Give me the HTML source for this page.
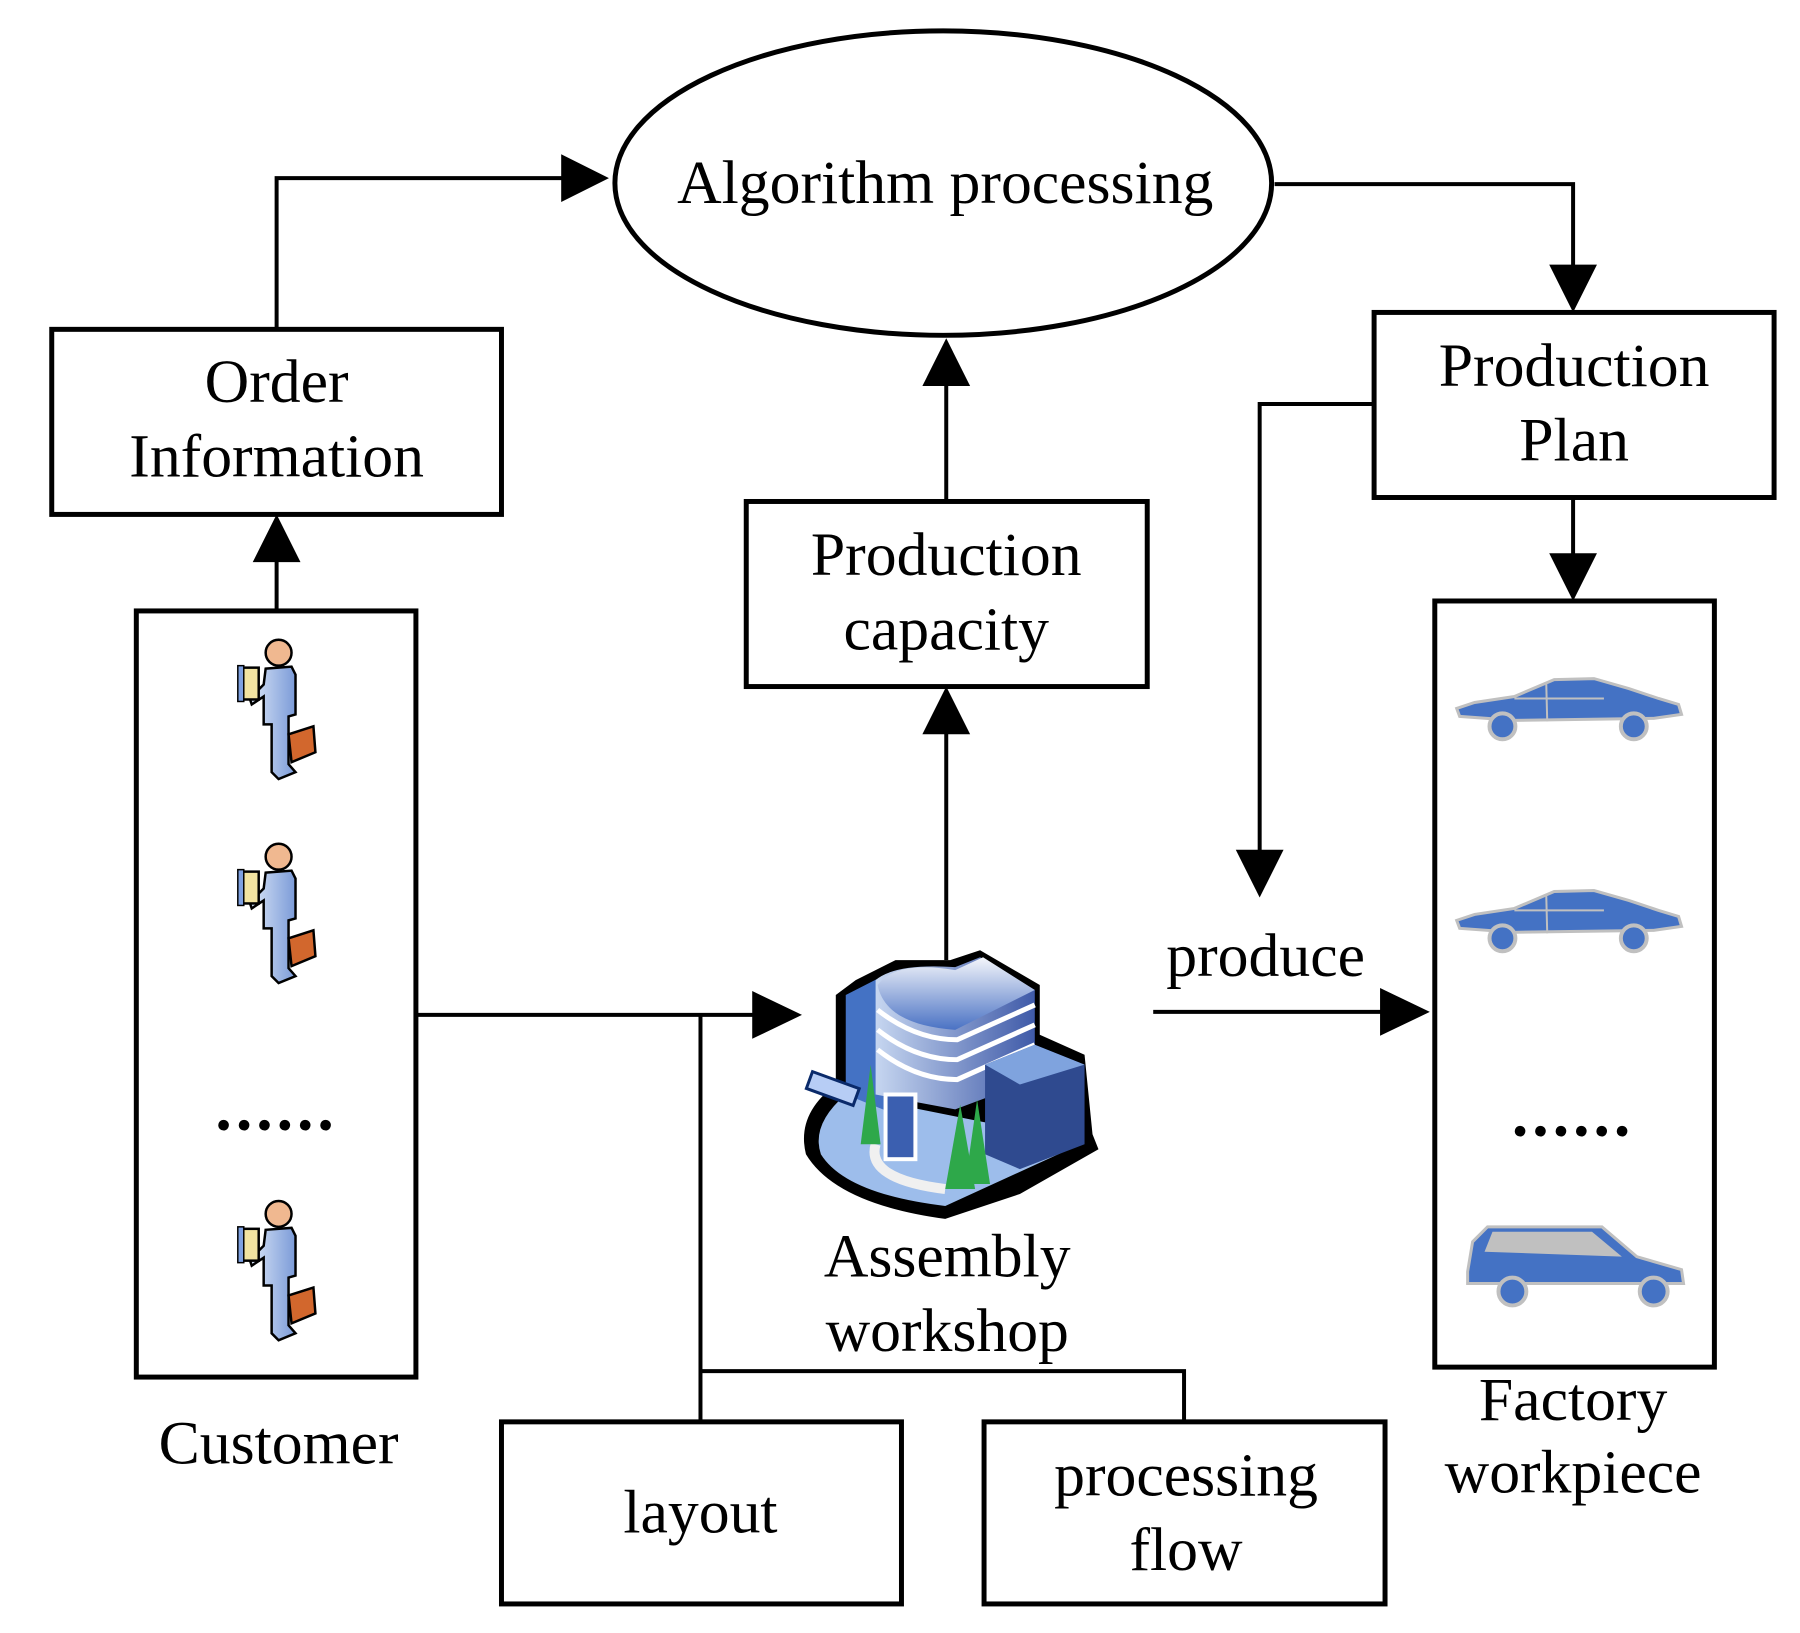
<!DOCTYPE html>
<html><head><meta charset="utf-8"><style>
html,body{margin:0;padding:0;background:#fff}
svg{display:block}
text{font-family:"Liberation Serif",serif;font-size:62px;fill:#000}
.dots{font-weight:bold;font-size:66px;letter-spacing:4px}
</style></head><body>
<svg width="1800" height="1633" viewBox="0 0 1800 1633" xmlns="http://www.w3.org/2000/svg">
<defs>
<linearGradient id="pg" x1="0" x2="1"><stop offset="0" stop-color="#dbe6f7"/><stop offset="1" stop-color="#7b9bd8"/></linearGradient>
<linearGradient id="cyl" x1="0" x2="1"><stop offset="0" stop-color="#c6d6f0"/><stop offset="1" stop-color="#3f5aa8"/></linearGradient>
<linearGradient id="top" x1="0" y1="0" x2="0" y2="1"><stop offset="0" stop-color="#f4f6fb"/><stop offset="1" stop-color="#4a72c4"/></linearGradient>
<g id="person">
<circle cx="45" cy="18" r="13" fill="#f0b890" stroke="#000" stroke-width="2.5"/>
<path d="M32 34 L58 32 L62 40 L62 80 L55 82 L55 130 L62 138 L45 145 L38 138 L38 90 L30 90 L30 62 L18 70 L16 64 L30 50 Z" fill="url(#pg)" stroke="#000" stroke-width="2.5"/>
<rect x="5" y="33" width="20" height="32" fill="#f2e3a0" stroke="#000" stroke-width="2.5"/>
<rect x="4" y="31" width="6" height="36" fill="#7ea0e0" stroke="#000" stroke-width="1.5"/>
<path d="M55 100 L80 92 L82 118 L58 128 Z" fill="#d2672d" stroke="#000" stroke-width="2.5"/>
</g>
<g id="car">
<path d="M2 32 L20 26 L60 20 L100 3 L140 2 L175 12 L205 22 L225 28 L228 38 L200 42 L60 44 L5 40 Z" fill="#4472c4" stroke="#c0c0c0" stroke-width="3"/>
<circle cx="48" cy="50" r="13" fill="#4472c4" stroke="#c0c0c0" stroke-width="4"/>
<circle cx="180" cy="50" r="13" fill="#4472c4" stroke="#c0c0c0" stroke-width="4"/>
<path d="M92 6 L93 45 M60 22 L150 22" stroke="#c0c0c0" stroke-width="2" fill="none"/>
</g>
</defs>
<g transform="scale(0.995)">
<g fill="none" stroke="#000" stroke-width="5">
<ellipse cx="948" cy="184" rx="330" ry="153"/>
<rect x="52" y="331" width="452" height="186"/>
<rect x="1381" y="314" width="402" height="186"/>
<rect x="750" y="504" width="403" height="186"/>
<rect x="137" y="614" width="281" height="770"/>
<rect x="1442" y="604" width="281" height="770"/>
<rect x="504" y="1429" width="402" height="183"/>
<rect x="989" y="1429" width="403" height="183"/>
</g>
<g fill="none" stroke="#000" stroke-width="4">
<polyline points="278,331 278,179 575,179"/>
<polyline points="1281,185 1581,185 1581,275"/>
<line x1="951" y1="504" x2="951" y2="385"/>
<line x1="278" y1="614" x2="278" y2="560"/>
<line x1="1581" y1="500" x2="1581" y2="560"/>
<polyline points="1381,406 1266,406 1266,860"/>
<line x1="1159" y1="1017" x2="1395" y2="1017"/>
<line x1="418" y1="1020" x2="760" y2="1020"/>
<line x1="704" y1="1020" x2="704" y2="1429"/>
<polyline points="704,1378 1190,1378 1190,1429"/>
<line x1="951" y1="965" x2="951" y2="735"/>
</g>
<g fill="#000">
<polygon points="612,179 564,155 564,203"/>
<polygon points="1581,314 1557,266 1605,266"/>
<polygon points="951,340 927,388 975,388"/>
<polygon points="278,517 254,565 302,565"/>
<polygon points="1581,604 1557,556 1605,556"/>
<polygon points="951,690 927,738 975,738"/>
<polygon points="1266,902 1242,854 1290,854"/>
<polygon points="1437,1017 1387,993 1387,1041"/>
<polygon points="806,1020 756,996 756,1044"/>
</g>
<g text-anchor="middle">
<text x="950" y="204">Algorithm processing</text>
<text x="278" y="404">Order</text>
<text x="278" y="479">Information</text>
<text x="1582" y="388">Production</text>
<text x="1582" y="463">Plan</text>
<text x="951" y="578">Production</text>
<text x="951" y="653">capacity</text>
<text x="1272" y="981">produce</text>
<text x="952" y="1283">Assembly</text>
<text x="952" y="1358">workshop</text>
<text x="280" y="1471">Customer</text>
<text x="1581" y="1427">Factory</text>
<text x="1581" y="1500">workpiece</text>
<text x="704" y="1540">layout</text>
<text x="1192" y="1503">processing</text>
<text x="1192" y="1578">flow</text>
<text class="dots" x="278" y="1135">......</text>
<text class="dots" x="1581" y="1141">......</text>
</g>
<use href="#person" x="235" y="638"/>
<use href="#person" x="235" y="843"/>
<use href="#person" x="235" y="1202"/>
<use href="#car" x="1462" y="680"/>
<use href="#car" x="1462" y="893"/>
<g transform="translate(1470,1228)">
<path d="M5 50 L10 20 L25 5 L140 5 L175 35 L220 48 L222 62 L5 62 Z" fill="#4472c4" stroke="#c0c0c0" stroke-width="3"/>
<path d="M22 30 L30 10 L130 10 L160 35 Z" fill="#c0c0c0"/>
<circle cx="50" cy="70" r="14" fill="#4472c4" stroke="#c0c0c0" stroke-width="4"/>
<circle cx="192" cy="70" r="14" fill="#4472c4" stroke="#c0c0c0" stroke-width="4"/>
</g>
<g>
<path d="M840 1090 Q800 1120 810 1160 Q840 1210 950 1225 L1025 1200 L1104 1155 L1098 1140 L1090 1060 L1045 1040 L1045 990 L985 955 L955 965 L900 965 L860 985 L840 1000 Z" fill="#000"/>
<path d="M850 1100 Q815 1130 825 1160 Q850 1200 950 1212 L1090 1148 Z" fill="#9dbdeb"/>
<path d="M850 1000 L895 977 L900 1120 L850 1100 Z" fill="#4472c4"/>
<path d="M880 985 Q900 968 960 972 L985 962 L1040 995 L1040 1085 L960 1115 L880 1100 Z" fill="url(#cyl)"/>
<path d="M882 990 Q900 965 960 975 L988 962 L1040 995 L960 1035 Q890 1030 882 990 Z" fill="url(#top)"/>
<path d="M882 1015 Q920 1045 962 1045 L1040 1010 M882 1035 Q920 1065 962 1065 L1040 1030 M882 1055 Q920 1085 962 1085 L1040 1050" stroke="#fff" stroke-width="5" fill="none"/>
<path d="M990 1070 L1040 1050 L1090 1070 L1090 1150 L1025 1175 L990 1160 Z" fill="#2f4a8f"/>
<path d="M990 1070 L1040 1050 L1090 1070 L1025 1090 Z" fill="#7fa3de"/>
<rect x="890" y="1100" width="30" height="65" fill="#3b5fb0" stroke="#fff" stroke-width="4"/>
<path d="M880 1150 Q870 1185 950 1195" stroke="#f0f0f0" stroke-width="10" fill="none"/>
<polygon points="965,1110 950,1195 980,1195" fill="#2ea84a"/>
<polygon points="982,1105 970,1190 995,1190" fill="#2ea84a"/>
<polygon points="875,1070 865,1150 885,1150" fill="#2ea84a"/>
<rect x="812" y="1085" width="50" height="18" fill="#b7cdf5" stroke="#0a2a6a" stroke-width="3" transform="rotate(20 837 1094)"/>
</g>
</g>
</svg>
</body></html>
